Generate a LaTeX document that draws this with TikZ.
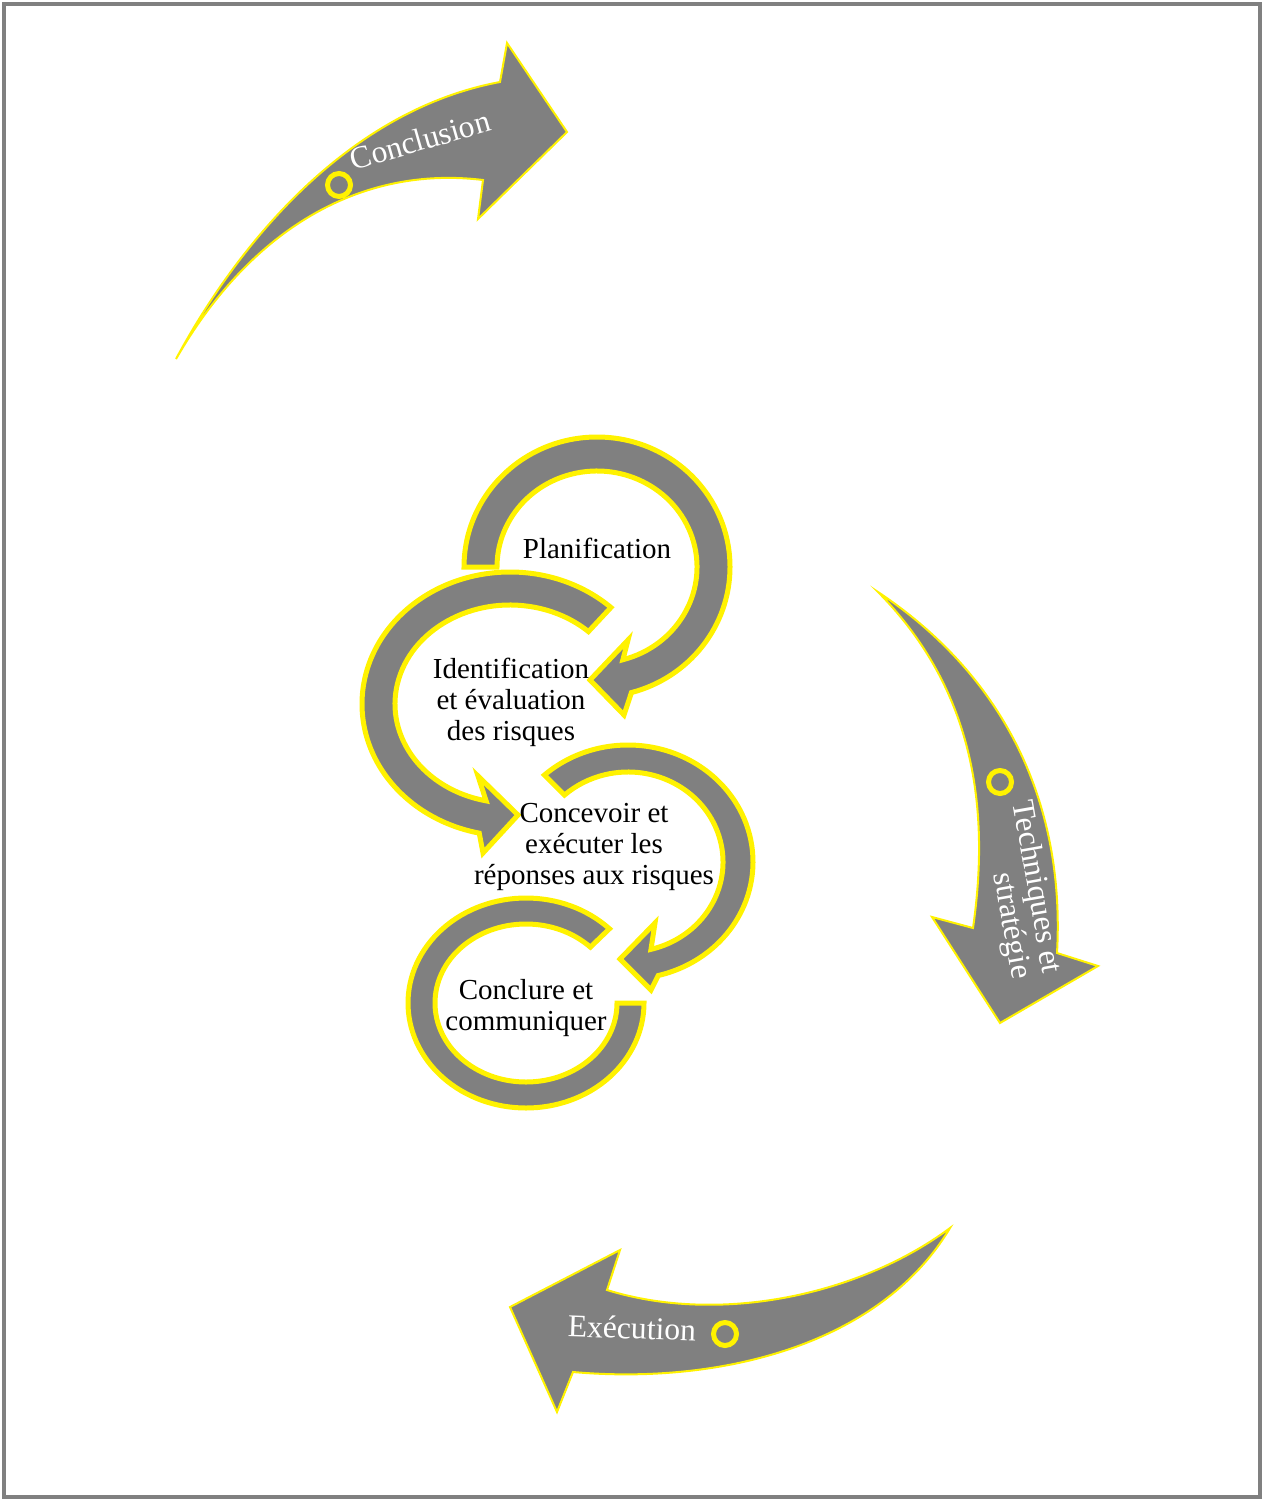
\documentclass[tikz,border=0pt]{standalone}
\usepackage{fontspec}
\setmainfont{Liberation Serif}

\begin{document}
\begin{tikzpicture}[x=0.2mm,y=0.2mm,
  bigarrow/.style={fill=gray,draw=yellow,line width=0.4mm},
  ring/.style={fill=gray,draw=yellow,line width=1mm},
  marker/.style={draw=yellow,line width=1mm},
  steptext/.style={align=center,font=\fontsize{16.5}{17.6}\selectfont,inner sep=0pt},
  phasetext/.style={align=center,text=white,font=\fontsize{18}{17.6}\selectfont,inner sep=0pt}]
  \useasboundingbox (0,0) rectangle (1262,-1499);
  \draw[gray,line width=0.8mm] (4,-4) rectangle (1260,-1497);

  % outer cycle
  \draw[bigarrow] (176,-359) .. controls (240,-240) and (350,-110) .. (500,-82)
    -- (507,-43) -- (567,-132) -- (478,-219) -- (483,-180)
    .. controls (360,-165) and (250,-230) .. (176,-359) -- cycle;
  \draw[marker] (339,-185) circle (11.5);
  \node[phasetext,rotate=16] (conclusion) at (420,-140) {Conclusion};

  \draw[bigarrow] (878,-592) .. controls (1010,-680) and (1065,-810) .. (1057,-953)
    -- (1098,-966) -- (1000,-1023) -- (932,-917) -- (973,-928)
    .. controls (990,-810) and (975,-690) .. (878,-592) -- cycle;
  \draw[marker] (1000,-782) circle (11.5);
  \node[phasetext,align=right,rotate=-80] (techniques) at (1020,-890) {Techniques et\\stratégie};

  \draw[bigarrow] (950,-1228) .. controls (860,-1295) and (720,-1325) .. (607,-1290)
    -- (620,-1250) -- (510,-1307) -- (557,-1412) -- (573,-1372)
    .. controls (720,-1385) and (880,-1345) .. (950,-1228) -- cycle;
  \draw[marker] (725,-1334) circle (11.5);
  \node[phasetext,rotate=-2] (execution) at (632,-1328) {Exécution};

  % inner steps
  \begin{scope}[shift={(597,-567)}]
    \draw[ring] (180:133 and 130) arc[start angle=180,end angle=-75,x radius=133,y radius=130]
      -- (27,-148) -- (-7,-113) -- (31,-73)
      -- (-75:100 and 96) arc[start angle=-75,end angle=180,x radius=100,y radius=96] -- cycle;
  \end{scope}
  \begin{scope}[shift={(510,-704)}]
    \draw[ring] (47:148 and 132) arc[start angle=47,end angle=258,x radius=148,y radius=132]
      -- (-27,-149) -- (8,-111) -- (-32,-72)
      -- (258:115 and 99) arc[start angle=258,end angle=47,x radius=115,y radius=99] -- cycle;
  \end{scope}
  \begin{scope}[shift={(628,-862)}]
    \draw[ring] (132:125 and 117) arc[start angle=132,end angle=-76,x radius=125,y radius=117]
      -- (23,-128) -- (-8,-97) -- (27,-61)
      -- (-76:95 and 90) arc[start angle=-76,end angle=132,x radius=95,y radius=90] -- cycle;
  \end{scope}
  \begin{scope}[shift={(526,-1003)}]
    \draw[ring] (45:118 and 105) arc[start angle=45,end angle=360,x radius=118,y radius=105]
      -- (0:91 and 79) arc[start angle=360,end angle=45,x radius=91,y radius=79] -- cycle;
  \end{scope}

  \node[steptext] (planification) at (597,-548) {Planification};
  \node[steptext] (identification) at (511,-702) {Identification\\et évaluation\\des risques};
  \node[steptext] (concevoir) at (594,-847) {Concevoir et\\exécuter les\\réponses aux risques};
  \node[steptext] (conclure) at (526,-1008) {Conclure et\\communiquer};
\end{tikzpicture}
\end{document}
